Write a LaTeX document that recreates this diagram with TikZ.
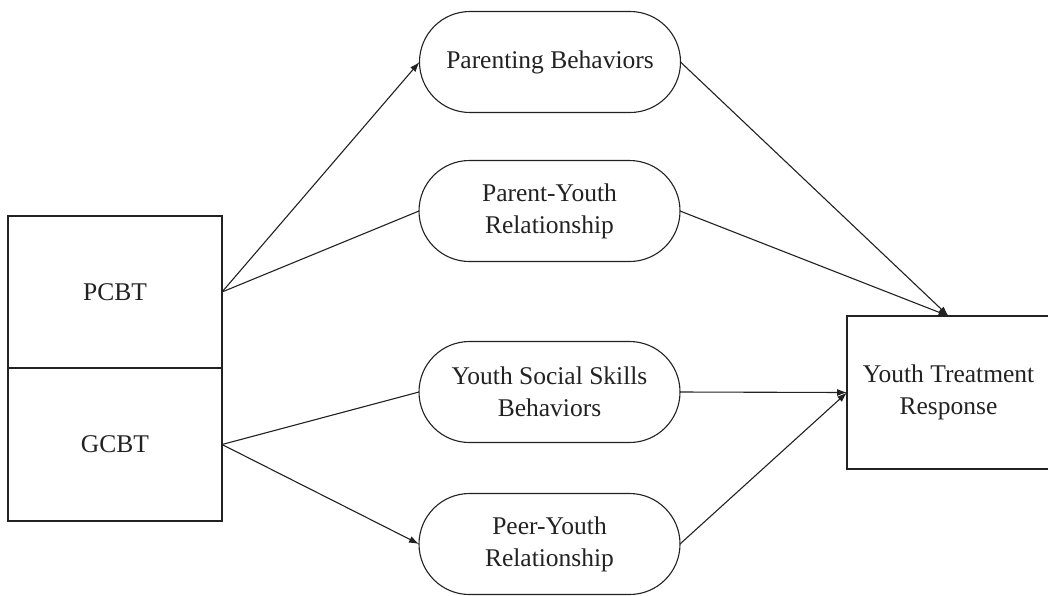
\documentclass[tikz,border=0pt]{standalone}
\usepackage{fontspec}
\setmainfont{Liberation Serif}
\usetikzlibrary{arrows.meta,shapes.misc}
\definecolor{ink}{HTML}{222222}
\begin{document}
\begin{tikzpicture}[x=1pt,y=-1pt,
  every node/.style={font=\fontsize{25.5}{32}\selectfont, text=ink, inner sep=0pt, outer sep=0pt, align=center},
  boxnode/.style={draw=ink, line width=1.1pt, rectangle},
  pill/.style={draw=ink, line width=1.1pt, rounded rectangle, minimum width=261pt, minimum height=101pt},
  link/.style={draw=ink, line width=1.1pt},
  arr/.style={link, -{Latex[length=10pt,width=7pt]}}]
\useasboundingbox (0,0) rectangle (1048,595);
\fill[white] (0,0) rectangle (1048,595);
\node[boxnode, minimum width=214pt, minimum height=152pt] (pcbt) at (115,292) {PCBT};
\node[boxnode, minimum width=214pt, minimum height=153pt] (gcbt) at (115,444.5) {GCBT};
\node[boxnode, minimum width=203pt, minimum height=153pt] (ytr) at (948.5,392.5) {Youth Treatment\\Response};
\node[pill] (pb) at (550,62) {Parenting Behaviors};
\node[pill] (pyr) at (549.5,211) {Parent-Youth\\Relationship};
\node[pill] (yss) at (549.5,392) {Youth Social Skills\\Behaviors};
\node[pill] (peer) at (549.5,544) {Peer-Youth\\Relationship};
\draw[arr] (pcbt.east) -- (pb.west);
\draw[link] (pcbt.east) -- (pyr.west);
\draw[link] (gcbt.east) -- (yss.west);
\draw[arr] (gcbt.east) -- (peer.west);
\draw[arr] (pb.east) -- (ytr.north);
\draw[arr] (pyr.east) -- (ytr.north);
\draw[arr] (yss.east) -- (ytr.west);
\draw[arr] (peer.east) -- (ytr.west);
\end{tikzpicture}
\end{document}
